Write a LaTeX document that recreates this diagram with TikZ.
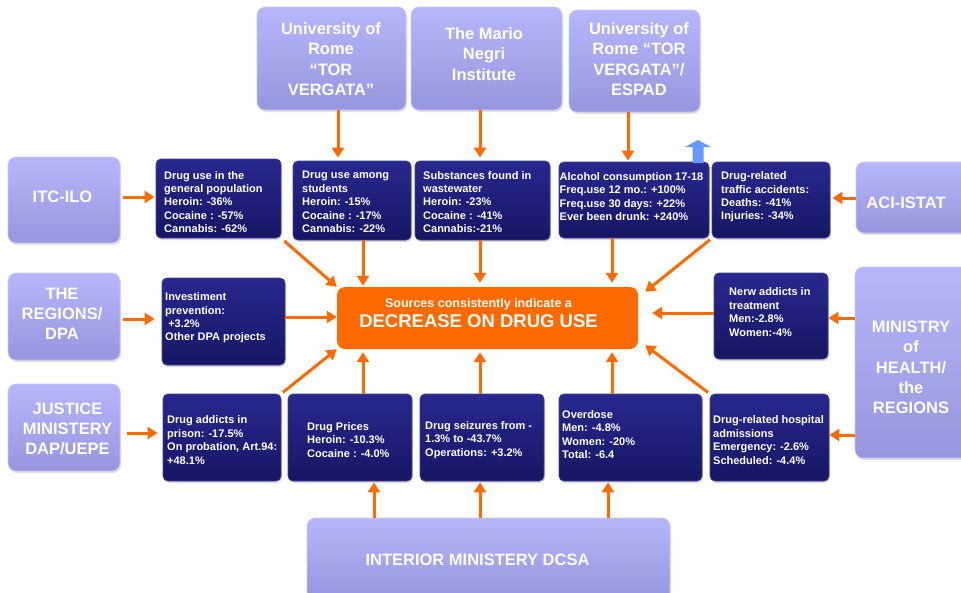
\documentclass[tikz,border=0pt]{standalone}
\usepackage{fontspec}
\setmainfont{Liberation Sans}
\usetikzlibrary{arrows.meta,shadows}

\definecolor{srcTop}{RGB}{182,182,252}
\definecolor{srcBot}{RGB}{150,150,222}
\definecolor{srcEdge}{RGB}{200,200,250}
\definecolor{navyTop}{RGB}{40,40,142}
\definecolor{navyBot}{RGB}{22,22,100}
\definecolor{navyEdge}{RGB}{62,62,150}
\definecolor{orng}{RGB}{255,106,0}
\definecolor{blueArr}{RGB}{102,153,255}

\tikzset{
  srcbox/.style={rounded corners=8pt, top color=srcTop, bottom color=srcBot,
    draw=srcEdge, line width=0.6pt, inner sep=0pt,
    drop shadow={opacity=0.25, shadow xshift=1pt, shadow yshift=-2pt}},
  databox/.style={rounded corners=5pt, top color=navyTop, bottom color=navyBot,
    draw=navyEdge, line width=0.8pt, inner sep=0pt,
    drop shadow={opacity=0.3, shadow xshift=1pt, shadow yshift=-2pt}},
  hubbox/.style={rounded corners=8pt, fill=orng, inner sep=0pt},
  srctext/.style={text=white, font=\fontsize{16.5}{20.3}\selectfont\bfseries,
    align=center, inner sep=0pt},
  datatext/.style={text=white, font=\fontsize{11}{13.4}\selectfont\bfseries,
    align=left, inner sep=0pt, anchor=west},
  arr/.style={draw=orng, line width=3pt, -{Triangle[length=10pt,width=12pt]}},
}

\begin{document}
\begin{tikzpicture}[x=1pt,y=-1pt]
\useasboundingbox (0,0) rectangle (961,592);
\clip (0,0) rectangle (961,592);

% ---- source boxes ----
\node[srcbox, minimum width=149pt, minimum height=103pt] (U1) at (331.5,58.5) {};
\node[srcbox, minimum width=151pt, minimum height=103pt] (Mn) at (486.5,58.5) {};
\node[srcbox, minimum width=131pt, minimum height=102pt] (Es) at (634.5,61) {};
\node[srcbox, minimum width=112pt, minimum height=86pt] (ITC) at (64,200) {};
\node[srcbox, minimum width=112pt, minimum height=87pt] (REG) at (64,316.5) {};
\node[srcbox, minimum width=112pt, minimum height=87pt] (JUS) at (64,427.5) {};
\node[srcbox, minimum width=114pt, minimum height=71pt] (ACI) at (913,197.5) {};
\node[srcbox, minimum width=115pt, minimum height=191pt] (MIN) at (912.5,362.5) {};
\node[srcbox, minimum width=363pt, minimum height=82pt] (In) at (488.5,559) {};

\node[srctext] (U1t) at (331,59) {University of\\Rome\\“TOR\\VERGATA”};
\node[srctext] (Mnt) at (484,54) {The Mario\\Negri\\Institute};
\node[srctext] (Est) at (639,59) {University of\\Rome “TOR\\VERGATA”/\\ESPAD};
\node[srctext] (ITCt) at (62.5,197) {ITC-ILO};
\node[srctext] (REGt) at (62,314) {THE\\REGIONS/\\DPA};
\node[srctext] (JUSt) at (67.5,429) {JUSTICE\\MINISTERY\\DAP/UEPE};
\node[srctext] (ACIt) at (906,203) {ACI-ISTAT};
\node[srctext] (MINt) at (911,367.5) {MINISTRY\\of\\HEALTH/\\the\\REGIONS};
\node[srctext] (Int) at (477.5,560) {INTERIOR MINISTERY DCSA};

% ---- data boxes ----
\node[databox, minimum width=125pt, minimum height=79pt] (A) at (218.5,198.5) {};
\node[databox, minimum width=118pt, minimum height=79pt] (B) at (352,200.5) {};
\node[databox, minimum width=135pt, minimum height=79pt] (C) at (482.5,200.5) {};
\node[databox, minimum width=150pt, minimum height=76pt] (D) at (634,200) {};
\node[databox, minimum width=118pt, minimum height=76pt] (E) at (771,200) {};
\node[databox, minimum width=123pt, minimum height=87pt] (Inv) at (223.5,321.5) {};
\node[databox, minimum width=114pt, minimum height=86pt] (Nw) at (771,316) {};
\node[databox, minimum width=118pt, minimum height=87pt] (Pr) at (222,437.5) {};
\node[databox, minimum width=124pt, minimum height=87pt] (Pc) at (350,437.5) {};
\node[databox, minimum width=124pt, minimum height=87pt] (Sz) at (482,437.5) {};
\node[databox, minimum width=143pt, minimum height=87pt] (Od) at (630.5,437.5) {};
\node[databox, minimum width=119pt, minimum height=87pt] (Ho) at (769.5,437.5) {};

\node[datatext] (At) at (164,202) {Drug use in the\\general population\\Heroin: -36\%\\Cocaine : -57\%\\Cannabis: -62\%};
\node[datatext] (Bt) at (302,202) {Drug use among\\students\\Heroin: -15\%\\Cocaine : -17\%\\Cannabis: -22\%};
\node[datatext] (Ct) at (423,202) {Substances found in\\wastewater\\Heroin: -23\%\\Cocaine : -41\%\\Cannabis:-21\%};
\node[datatext] (Dt) at (559.5,196.5) {Alcohol consumption 17-18\\Freq.use 12 mo.: +100\%\\Freq.use 30 days: +22\%\\Ever been drunk: +240\%};
\node[datatext] (Et) at (721,197) {Drug-related\\traffic accidents:\\Deaths: -41\%\\Injuries: -34\%};
\node[datatext] (Invt) at (165,318) {Investiment\\prevention:\\~+3.2\%\\Other DPA projects};
\node[datatext] (Nwt) at (729,312) {Nerw addicts in\\treatment\\Men:-2.8\%\\Women:-4\%};
\node[datatext] (Prt) at (167,440) {Drug addicts in\\prison: -17.5\%\\On probation, Art.94:\\+48.1\%};
\node[datatext] (Pct) at (307,440) {Drug Prices\\Heroin: -10.3\%\\Cocaine : -4.0\%};
\node[datatext] (Szt) at (425,440) {Drug seizures from -\\1.3\% to -43.7\%\\Operations: +3.2\%};
\node[datatext] (Odt) at (562,434.5) {Overdose\\Men: -4.8\%\\Women: -20\%\\Total: -6.4};
\node[datatext] (Hot) at (713,440) {Drug-related hospital\\admissions\\Emergency: -2.6\%\\Scheduled: -4.4\%};

% ---- hub ----
\node[hubbox, minimum width=301pt, minimum height=62pt] (c) at (487.5,318) {};
\node[text=white, align=center, inner sep=0pt, font=\bfseries] (ct) at (478.5,313)
  {{\fontsize{12.5}{15}\selectfont Sources consistently indicate a}\\[3pt]
   {\fontsize{18.5}{20}\selectfont DECREASE ON DRUG USE}};

% ---- blue up arrow ----
\fill[blueArr] (692.5,163) -- (692.5,147) -- (685,147) -- (698,140) -- (711,147)
  -- (703.5,147) -- (703.5,163) -- cycle;

% ---- connectors ----
\draw[arr, shorten >=3pt] ([xshift=6.5pt]U1.south) -- ([xshift=-14pt]B.north);
\draw[arr, shorten >=3pt] ([xshift=-6.5pt]Mn.south) -- ([xshift=-2.5pt]C.north);
\draw[arr, shorten >=1pt] ([xshift=-6.5pt]Es.south) -- ([xshift=-6pt]D.north);

\draw[arr, shorten <=3pt, shorten >=1pt] ([yshift=3pt]ITC.east) -- ([yshift=1.5pt]A.west);
\draw[arr, shorten <=3pt, shorten >=7pt] ([yshift=-2.5pt]REG.east) -- ([yshift=2.5pt]Inv.west);
\draw[arr, shorten <=7pt, shorten >=5pt] ([yshift=-5.5pt]JUS.east) -- ([yshift=4.5pt]Pr.west);

\draw[arr, shorten >=2pt] ([yshift=-0.5pt]ACI.west) -- ([yshift=2pt]E.east);
\draw[arr] ([yshift=44.5pt]MIN.west) -- ([yshift=-2pt]Nw.east);
\draw[arr] ([yshift=-72.5pt]MIN.west) -- ([yshift=2.5pt]Ho.east);

\draw[arr, shorten <=4pt] (A.south east) -- (c.north west);
\draw[arr, shorten >=1pt] ([xshift=11pt]B.south) -- ([xshift=-124.5pt]c.north);
\draw[arr, shorten >=4pt] ([xshift=-2.5pt]C.south) -- ([xshift=-7.5pt]c.north);
\draw[arr, shorten >=4pt] ([xshift=-22pt]D.south) -- ([xshift=124.5pt]c.north);
\draw[arr, shorten <=2pt] (E.south west) -- ([xshift=7pt,yshift=-5pt]c.north east);

\draw[arr] ([yshift=4.5pt]Inv.east) -- ([yshift=1pt]c.west);
\draw[arr, shorten >=14pt] ([yshift=3pt]Nw.west) -- ([yshift=5pt]c.east);

\draw[arr, shorten <=2pt] (Pr.north east) -- (c.south west);
\draw[arr, shorten >=3pt] ([xshift=13pt]Pc.north) -- ([xshift=-124.5pt]c.south);
\draw[arr, shorten >=3pt] ([xshift=-2pt]Sz.north) -- ([xshift=-7.5pt]c.south);
\draw[arr, shorten >=3pt] ([xshift=-18.5pt]Od.north) -- ([xshift=124.5pt]c.south);
\draw[arr, shorten <=2pt] (Ho.north west) -- ([xshift=7pt,yshift=4pt]c.south east);

\draw[arr, shorten >=1pt] ([xshift=-114.5pt]In.north) -- ([xshift=24pt]Pc.south);
\draw[arr, shorten >=1pt] ([xshift=-8.5pt]In.north) -- ([xshift=-2pt]Sz.south);
\draw[arr, shorten >=1pt] ([xshift=119.5pt]In.north) -- ([xshift=-22.5pt]Od.south);
\end{tikzpicture}
\end{document}
